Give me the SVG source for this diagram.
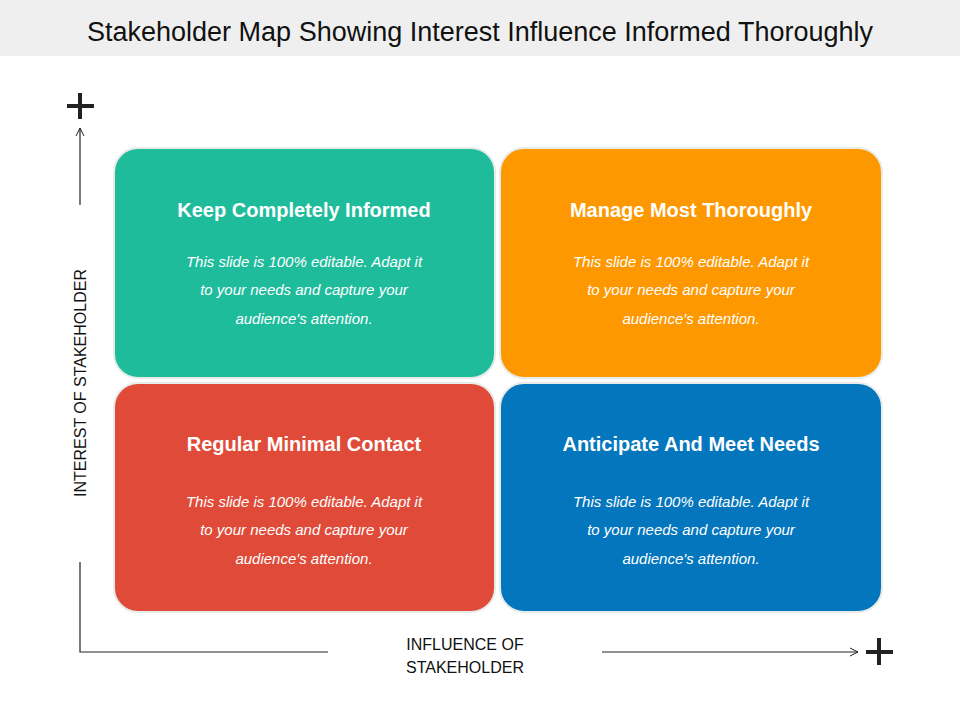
<svg xmlns="http://www.w3.org/2000/svg" width="960" height="720" viewBox="0 0 960 720">
<style>
.t{font-family:"Liberation Sans",Arial,sans-serif;fill:#fff;text-anchor:middle}
.h{font-size:20px;font-weight:bold}
.b{font-size:15px;font-style:italic}
.ax{stroke:#222;stroke-width:1.2;fill:none}
.lab{font-family:"Liberation Sans",Arial,sans-serif;font-size:16px;fill:#111;text-anchor:middle}
.plus{stroke:#222;stroke-width:4}
.box{stroke:#e8ece8;stroke-width:2}
</style>
<defs><marker id="a" markerWidth="10" markerHeight="10" refX="9" refY="5" orient="auto" markerUnits="userSpaceOnUse"><path d="M1,1 L9,5 L1,9" fill="none" stroke="#222" stroke-width="1"/></marker></defs>
<rect x="0" y="0" width="960" height="56" fill="#efefef"/>
<text x="480" y="41" font-family="'Liberation Sans',Arial,sans-serif" font-size="27" fill="#111" text-anchor="middle">Stakeholder Map Showing Interest  Influence Informed Thoroughly</text>
<g id="connectors">
<line class="ax" x1="80" y1="205" x2="80" y2="128" marker-end="url(#a)"/>
<polyline class="ax" points="80,562 80,652 328,652"/>
<line class="ax" x1="602" y1="652" x2="858" y2="652" marker-end="url(#a)"/>
</g>
<g id="plus-top"><line class="plus" x1="67" y1="106" x2="94" y2="106"/><line class="plus" x1="80" y1="93" x2="80" y2="119"/></g>
<g id="plus-right"><line class="plus" x1="866" y1="652" x2="893" y2="652"/><line class="plus" x1="879" y1="638" x2="879" y2="665"/></g>
<text class="lab" transform="translate(86,383) rotate(-90)">INTEREST OF STAKEHOLDER</text>
<text class="lab" x="465" y="650">INFLUENCE OF</text>
<text class="lab" x="465" y="673">STAKEHOLDER</text>
<g id="keep"><rect class="box" x="114" y="148" width="381" height="230" rx="24" fill="#1fbc9c"/>
<text class="t h" x="304" y="217">Keep Completely Informed</text>
<text class="t b" x="304" y="267">This slide is 100% editable. Adapt it</text>
<text class="t b" x="304" y="295">to your needs and capture your</text>
<text class="t b" x="304" y="324">audience's attention.</text></g>
<g id="manage"><rect class="box" x="500" y="148" width="382" height="230" rx="24" fill="#fe9800"/>
<text class="t h" x="691" y="217">Manage Most Thoroughly</text>
<text class="t b" x="691" y="267">This slide is 100% editable. Adapt it</text>
<text class="t b" x="691" y="295">to your needs and capture your</text>
<text class="t b" x="691" y="324">audience's attention.</text></g>
<g id="regular"><rect class="box" x="114" y="383" width="381" height="229" rx="24" fill="#e04b39"/>
<text class="t h" x="304" y="451">Regular Minimal Contact</text>
<text class="t b" x="304" y="507">This slide is 100% editable. Adapt it</text>
<text class="t b" x="304" y="535">to your needs and capture your</text>
<text class="t b" x="304" y="564">audience's attention.</text></g>
<g id="anticipate"><rect class="box" x="500" y="383" width="382" height="229" rx="24" fill="#0476bd"/>
<text class="t h" x="691" y="451">Anticipate And Meet Needs</text>
<text class="t b" x="691" y="507">This slide is 100% editable. Adapt it</text>
<text class="t b" x="691" y="535">to your needs and capture your</text>
<text class="t b" x="691" y="564">audience's attention.</text></g>
</svg>
